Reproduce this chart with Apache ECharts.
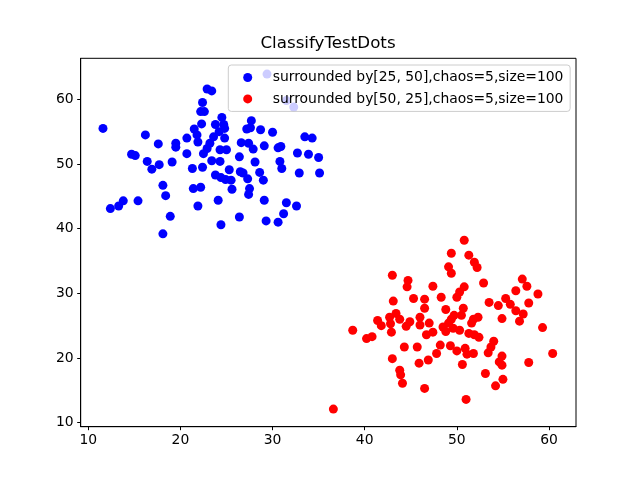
<!DOCTYPE html>
<html>
<head>
<meta charset="utf-8">
<title>ClassifyTestDots</title>
<script src="https://cdn.jsdelivr.net/npm/echarts@6.0.0/dist/echarts.min.js"></script>
<style>
    html, body { margin: 0; padding: 0; background: #fff; }
    #chart { width: 640px; height: 480px; }
</style>
</head>
<body>
<div id="chart"></div>
<script>
// points
const blueDots = [
    [11.6, 55.5], [16.2, 54.5], [17.6, 53.1], [19.5, 53.2], [19.5, 52.6],
    [20.7, 54.0], [14.7, 51.5], [15.1, 51.3], [16.4, 50.4], [17.7, 49.9],
    [16.9, 49.2], [19.1, 50.3], [20.7, 51.6], [21.3, 49.3], [22.4, 49.5],
    [18.1, 46.7], [18.4, 45.1], [21.4, 46.2], [22.2, 46.4], [12.4, 43.1],
    [13.3, 43.5], [13.8, 44.3], [15.4, 44.3], [21.9, 43.5], [18.9, 41.9],
    [18.1, 39.2], [22.9, 61.6], [23.4, 61.3], [22.4, 59.5], [22.2, 58.1],
    [22.6, 58.1], [24.5, 57.2], [27.7, 56.7], [23.8, 56.1], [24.7, 56.1],
    [22.3, 56.2], [21.5, 55.4], [27.2, 55.4], [27.6, 55.6], [28.7, 55.3],
    [24.8, 55.5], [21.8, 54.5], [24.2, 55.0], [23.6, 54.2], [24.8, 54.0],
    [21.9, 53.4], [23.2, 53.2], [26.6, 53.3], [27.4, 53.2], [27.9, 52.3],
    [22.9, 52.4], [24.3, 52.2], [25.0, 52.2], [22.5, 51.6], [26.4, 51.1],
    [28.1, 50.3], [23.4, 50.5], [24.3, 50.4], [25.3, 49.1], [26.5, 48.8],
    [26.8, 48.6], [23.8, 48.3], [24.4, 47.9], [24.9, 47.6], [25.5, 47.5],
    [27.3, 47.7], [29.0, 47.5], [25.6, 46.1], [27.5, 46.2], [27.4, 45.3],
    [24.1, 44.4], [28.6, 48.7], [30.0, 54.9], [33.5, 54.2], [34.3, 54.0],
    [29.1, 52.8], [30.6, 52.5], [30.9, 52.7], [32.7, 51.7], [33.9, 51.5],
    [35.0, 51.0], [30.8, 50.4], [31.0, 49.3], [32.9, 48.6], [35.1, 48.6],
    [29.1, 44.4], [31.5, 44.0], [32.6, 43.5], [31.2, 42.3], [26.4, 41.8],
    [29.3, 41.2], [30.6, 41.0], [24.4, 40.6], [29.4, 63.9], [31.5, 59.8],
    [32.3, 58.8]
];

const redDots = [
    [43.0, 32.8], [44.7, 32.0], [44.6, 31.0], [47.4, 31.1], [48.3, 29.4],
    [43.1, 28.8], [45.3, 29.2], [46.5, 29.1], [46.5, 27.7], [43.4, 26.9],
    [42.7, 26.3], [43.8, 26.0], [41.4, 25.8], [41.8, 25.0], [42.8, 25.3],
    [44.9, 25.6], [44.5, 24.9], [46.0, 26.3], [46.0, 25.1], [47.0, 25.4],
    [47.4, 24.0], [46.7, 23.6], [38.7, 24.3], [42.9, 24.0], [40.2, 23.0],
    [40.8, 23.3], [44.3, 21.7], [45.7, 21.7], [48.2, 22.0], [47.8, 20.7],
    [43.0, 19.9], [45.9, 19.2], [46.9, 19.7], [43.8, 18.1], [43.9, 17.4],
    [44.1, 16.1], [46.5, 15.3], [36.6, 12.1], [50.8, 38.2], [49.4, 36.2],
    [51.3, 35.9], [51.9, 34.8], [52.2, 34.0], [49.1, 34.1], [49.4, 33.1],
    [50.8, 31.0], [52.9, 31.6], [50.3, 30.2], [50.0, 29.4], [57.1, 32.2],
    [57.6, 31.1], [56.4, 30.4], [58.8, 29.9], [53.5, 28.6], [54.5, 28.1],
    [55.3, 29.2], [55.8, 28.3], [57.8, 28.5], [56.4, 27.3], [57.2, 26.8],
    [56.8, 25.7], [54.9, 26.1], [59.3, 24.7], [48.8, 27.5], [50.7, 27.7],
    [50.5, 26.6], [49.7, 26.6], [49.4, 26.0], [49.1, 25.4], [48.5, 24.8],
    [48.8, 24.1], [49.6, 24.6], [50.3, 24.3], [51.8, 26.0], [52.3, 26.3],
    [51.6, 25.4], [51.3, 23.8], [51.9, 23.6], [52.4, 23.2], [49.3, 21.9],
    [50.0, 21.1], [50.9, 21.5], [51.1, 20.6], [51.8, 20.7], [54.0, 22.6],
    [53.7, 21.7], [53.4, 20.8], [54.9, 20.3], [54.6, 19.4], [54.9, 18.9],
    [57.8, 19.3], [60.4, 20.7], [50.6, 19.0], [53.1, 17.6], [55.0, 16.7],
    [54.2, 15.7], [51.0, 13.6]
];

const blueName = 'surrounded by[25, 50],chaos=5,size=100';
const redName = 'surrounded by[50, 25],chaos=5,size=100';

const xTicks = [10, 20, 30, 40, 50, 60];
const yTicks = [10, 20, 30, 40, 50, 60];

const font = 'DejaVu Sans';

const chart = echarts.init(document.getElementById('chart'), null, { renderer: 'canvas' });

const axisCommon = {
    type: 'value',
    scale: true,
    splitLine: { show: false },
    axisLine: { show: true, onZero: false, lineStyle: { color: '#000', width: 1 } },
    axisTick: { show: true, length: 3.5, lineStyle: { color: '#000', width: 1 } },
    axisLabel: { color: '#000', fontSize: 13.9, fontFamily: font, margin: 7 }
};

const option = {
    animation: false,
    backgroundColor: '#fff',
    title: {
        text: 'ClassifyTestDots',
        left: 328,
        top: 35,
        padding: 0,
        textAlign: 'center',
        textStyle: { color: '#000', fontSize: 16.7, fontWeight: 'normal', fontFamily: font }
    },
    legend: {
        orient: 'vertical',
        left: 228.3,
        top: 65,
        icon: 'circle',
        itemWidth: 9,
        itemHeight: 9,
        itemGap: 7.4,
        padding: [5.5, 6.7, 5.5, 14.9],
        borderColor: '#cccccc',
        borderWidth: 1,
        borderRadius: 3,
        backgroundColor: 'rgba(255,255,255,0.8)',
        selectedMode: false,
        textStyle: { color: '#000', fontSize: 13.9, fontFamily: font, padding: [0, 0, 0, 15.5] },
        data: [blueName, redName]
    },
    grid: {
        left: 80.7,
        right: 64,
        top: 58.3,
        bottom: 53.3,
        show: true,
        borderColor: '#000',
        borderWidth: 1,
        backgroundColor: 'transparent',
        containLabel: false,
        outerBoundsMode: 'none'
    },
    xAxis: Object.assign({}, axisCommon, {
        min: 9.18,
        max: 62.93,
        axisTick: Object.assign({}, axisCommon.axisTick, { customValues: xTicks }),
        axisLabel: Object.assign({}, axisCommon.axisLabel, { customValues: xTicks })
    }),
    yAxis: Object.assign({}, axisCommon, {
        min: 9.38,
        max: 66.34,
        axisTick: Object.assign({}, axisCommon.axisTick, { customValues: yTicks }),
        axisLabel: Object.assign({}, axisCommon.axisLabel, { customValues: yTicks })
    }),
    series: [
        {
            name: blueName,
            type: 'scatter',
            symbol: 'circle',
            symbolSize: 9,
            itemStyle: { color: '#0000ff', opacity: 1 },
            data: blueDots
        },
        {
            name: redName,
            type: 'scatter',
            symbol: 'circle',
            symbolSize: 9,
            itemStyle: { color: '#ff0000', opacity: 1 },
            data: redDots
        }
    ]
};

chart.setOption(option);
</script>
</body>
</html>
